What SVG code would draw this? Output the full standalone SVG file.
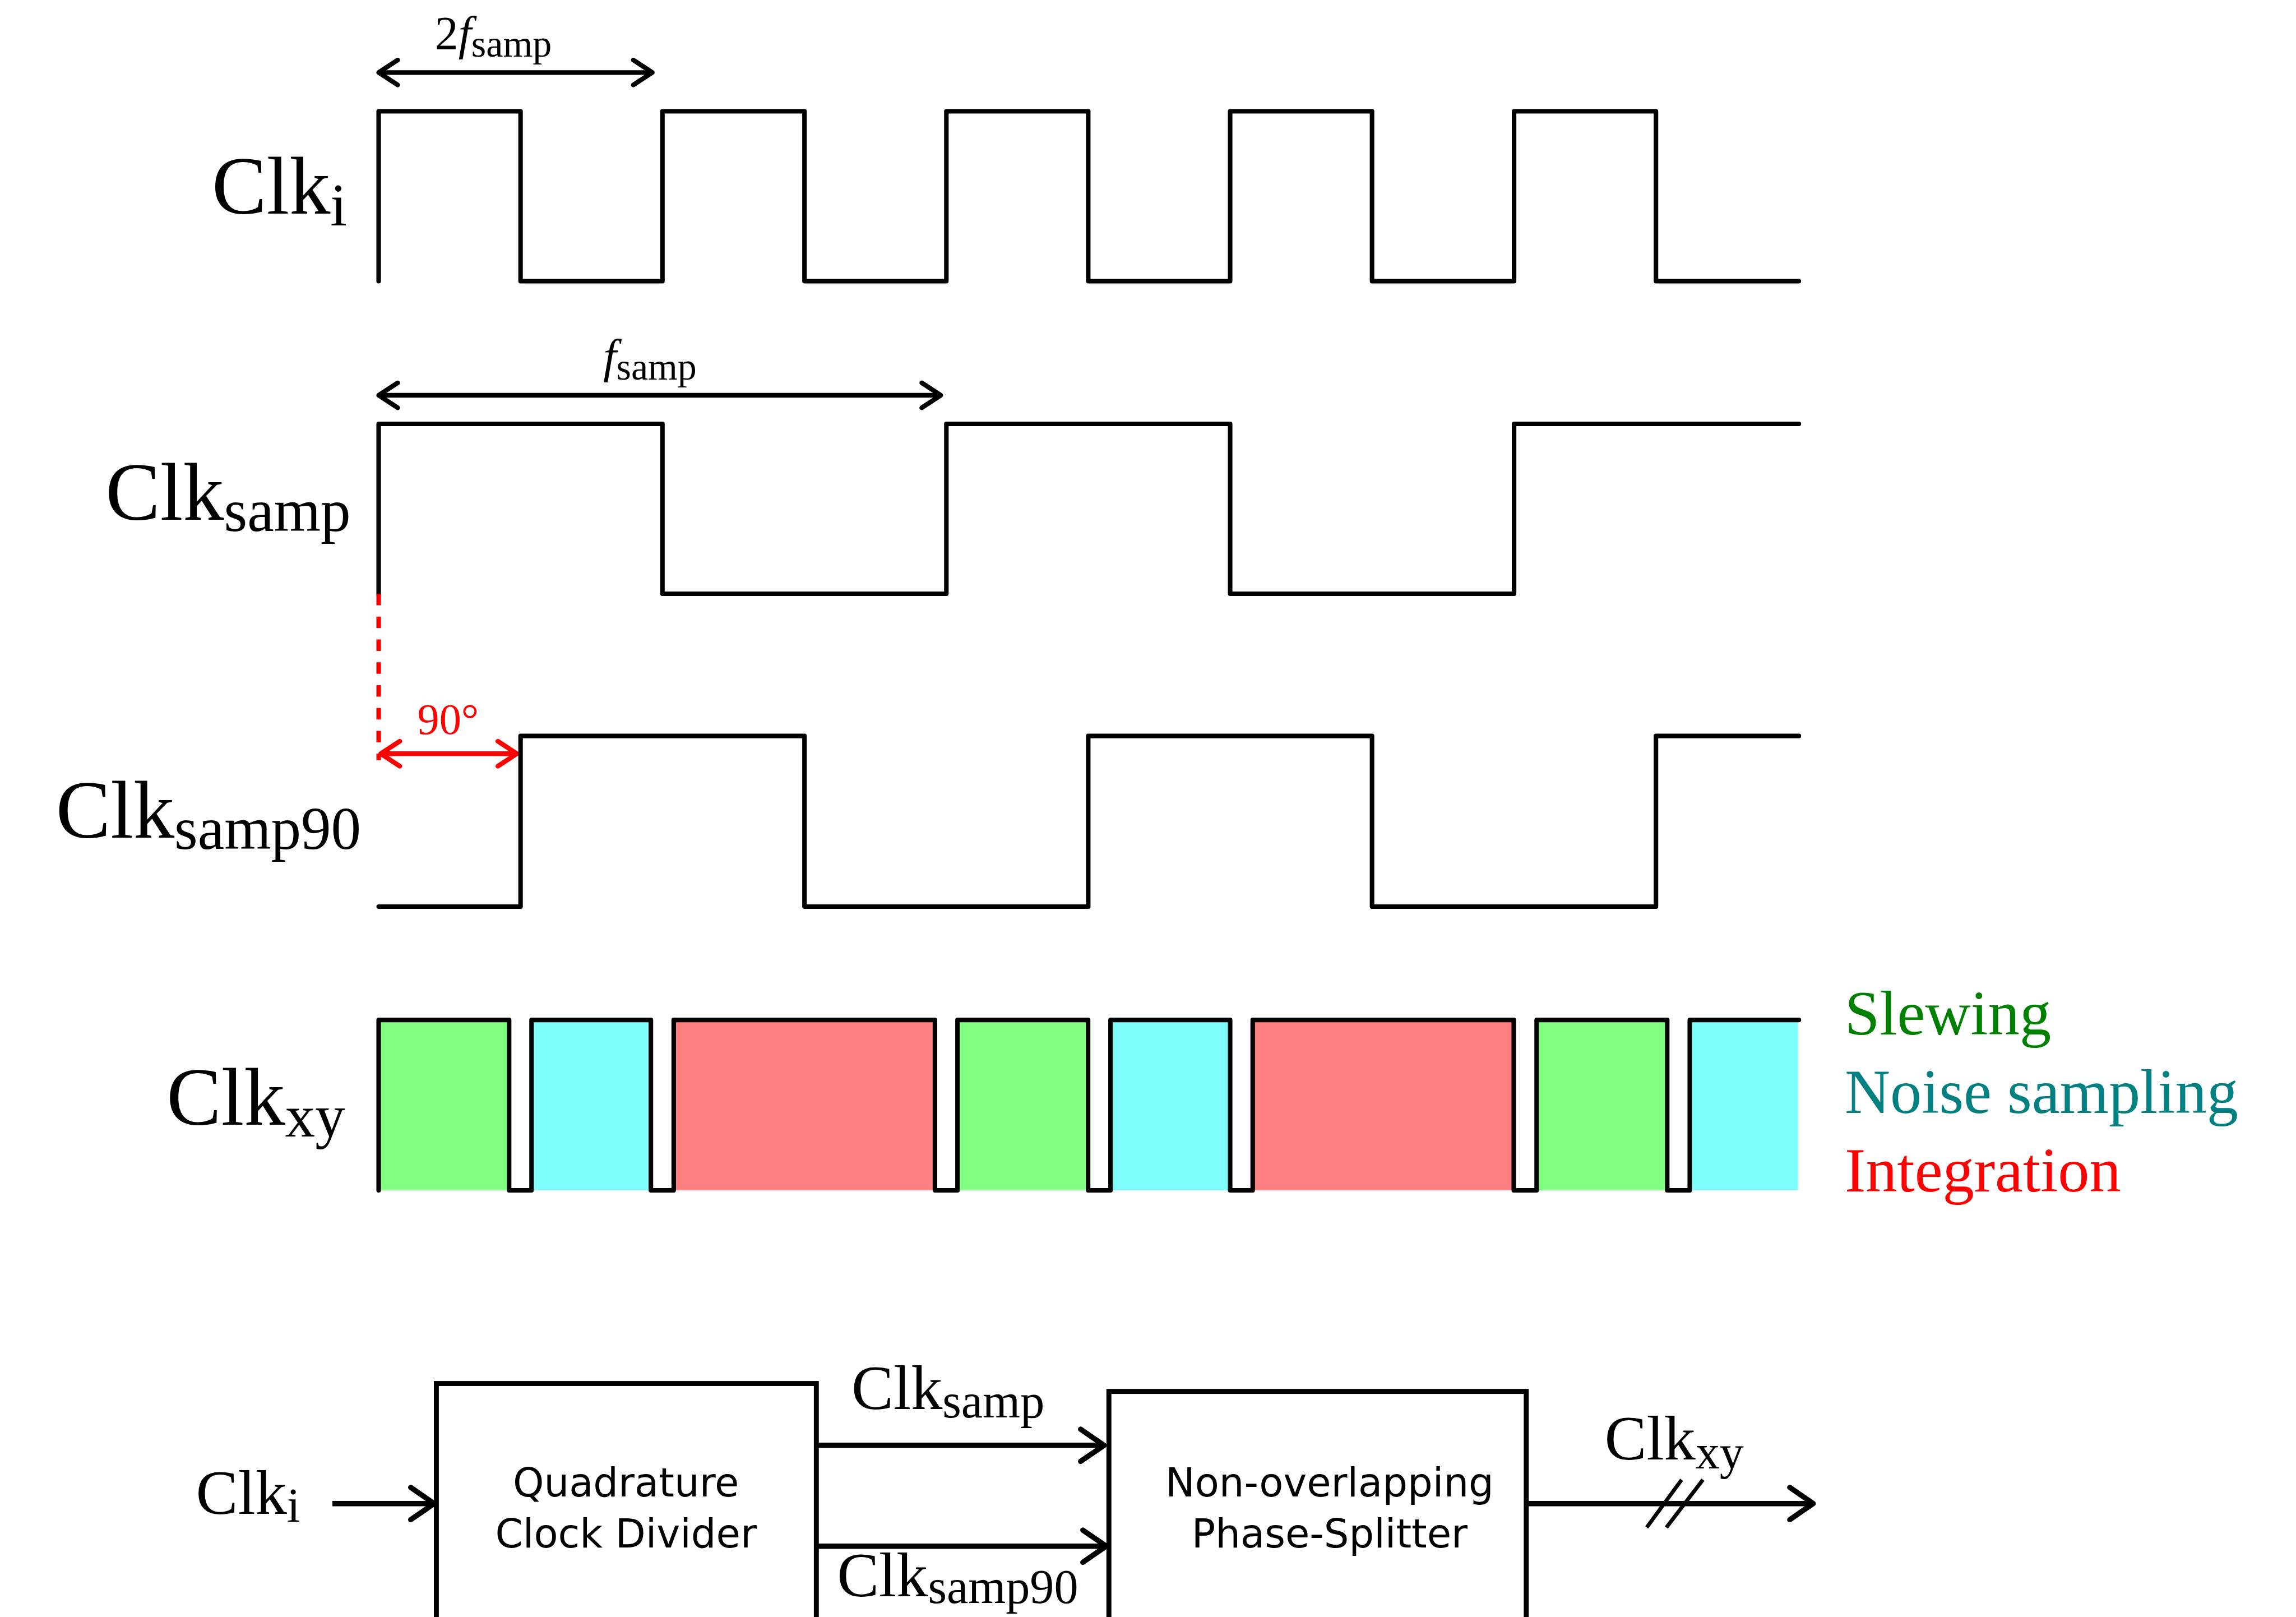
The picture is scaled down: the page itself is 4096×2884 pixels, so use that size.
<svg xmlns="http://www.w3.org/2000/svg" width="4096" height="2884" viewBox="0 0 4096 2884">
<style>
.wave{fill:none;stroke:#000;stroke-width:3.1;stroke-linecap:round;stroke-linejoin:round}
.ser{font-family:"Liberation Serif","Times New Roman",serif;fill:#000}
.sans{font-family:"DejaVu Sans",Verdana,sans-serif;font-size:27px;fill:#000;text-anchor:middle}
.big{font-size:56px}
.sub{font-size:41px}
.bbig{font-size:43px}
.bsub{font-size:33px}
.box{fill:#fff;stroke:#000;stroke-width:3.4}
.conn{fill:none;stroke:#000;stroke-width:3.6}
.dim{fill:none;stroke:#000;stroke-width:3.2}
.leg{font-family:"Liberation Serif","Times New Roman",serif;font-size:43px}
</style>
<defs>
<marker id="arrT" markerUnits="userSpaceOnUse" orient="auto-start-reverse" viewBox="-20 -12 24 24" refX="0" refY="0" markerWidth="24" markerHeight="24" overflow="visible">
<path d="M-13,-8.5 L0,0 L-13,8.5" fill="none" stroke="#000" stroke-width="3.2" stroke-linecap="round" stroke-linejoin="round"/>
</marker>
<marker id="arrR" markerUnits="userSpaceOnUse" orient="auto-start-reverse" viewBox="-20 -12 24 24" refX="0" refY="0" markerWidth="24" markerHeight="24" overflow="visible">
<path d="M-13,-8.5 L0,0 L-13,8.5" fill="none" stroke="#f00" stroke-width="3.2" stroke-linecap="round" stroke-linejoin="round"/>
</marker>
<marker id="arrB" markerUnits="userSpaceOnUse" orient="auto" viewBox="-22 -14 26 28" refX="0" refY="0" markerWidth="26" markerHeight="28" overflow="visible">
<path d="M-16,-11 L0,0 L-16,11" fill="none" stroke="#000" stroke-width="3.6" stroke-linecap="round" stroke-linejoin="round"/>
</marker>
</defs>
<rect x="0" y="0" width="4096" height="2884" fill="#fff"/>
<g transform="scale(2.612245)">
  <!-- Clk_i -->
  <g id="clk-i">
    <text class="ser big" x="237" y="146" text-anchor="end">Clk<tspan class="sub" dy="8">i</tspan></text>
    <path class="wave" d="M258.6,192 V76 H355.5 V192 H452.4 V76 H549.4 V192 H646.3 V76 H743.2 V192 H840.1 V76 H937 V192 H1034 V76 H1130.9 V192 H1228.5"/>
    <line class="dim" x1="258.6" y1="49.5" x2="445.5" y2="49.5" marker-start="url(#arrT)" marker-end="url(#arrT)"/>
    <text class="ser" x="297" y="33.5" font-size="32">2<tspan font-style="italic">f</tspan><tspan font-size="26" dy="5">samp</tspan></text>
  </g>
  <!-- Clk_samp -->
  <g id="clk-samp">
    <text class="ser big" x="239.5" y="355" text-anchor="end">Clk<tspan class="sub" dy="7.7">samp</tspan></text>
    <path class="wave" d="M258.6,405.4 V289.4 H452.4 V405.4 H646.3 V289.4 H840.1 V405.4 H1034 V289.4 H1228.5"/>
    <line class="dim" x1="258.6" y1="269.9" x2="642.5" y2="269.9" marker-start="url(#arrT)" marker-end="url(#arrT)"/>
    <text class="ser" x="412" y="254" font-size="32"><tspan font-style="italic">f</tspan><tspan font-size="26" dy="5">samp</tspan></text>
  </g>
  <!-- phase marker -->
  <g id="phase">
    <line x1="258.6" y1="405.4" x2="258.6" y2="519" stroke="#f00" stroke-width="3.1" stroke-dasharray="7.8 7.8"/>
    <line x1="260" y1="514.6" x2="353" y2="514.6" stroke="#f00" stroke-width="3.2" marker-start="url(#arrR)" marker-end="url(#arrR)"/>
    <text class="ser" x="285" y="501" font-size="30" style="fill:#f00">90°</text>
  </g>
  <!-- Clk_samp90 -->
  <g id="clk-samp90">
    <text class="ser big" x="246.6" y="572" text-anchor="end">Clk<tspan class="sub" dy="7.7">samp90</tspan></text>
    <path class="wave" d="M258.6,619 H355.5 V502.5 H549.4 V619 H743.2 V502.5 H937 V619 H1130.9 V502.5 H1228.5"/>
  </g>
  <!-- Clk_xy -->
  <g id="clk-xy">
    <text class="ser big" x="235.7" y="768" text-anchor="end">Clk<tspan class="sub" dy="8">xy</tspan></text>
    <g id="phases" stroke="none">
      <rect x="258.6" y="696.4" width="89.1" height="116.3" fill="#80ff80"/>
      <rect x="363" y="696.4" width="81.5" height="116.3" fill="#80ffff"/>
      <rect x="460.1" y="696.4" width="178.4" height="116.3" fill="#ff8080"/>
      <rect x="653.9" y="696.4" width="89.2" height="116.3" fill="#80ff80"/>
      <rect x="758.4" y="696.4" width="81.7" height="116.3" fill="#80ffff"/>
      <rect x="855.5" y="696.4" width="178.3" height="116.3" fill="#ff8080"/>
      <rect x="1049.4" y="696.4" width="89.2" height="116.3" fill="#80ff80"/>
      <rect x="1154" y="696.4" width="73.9" height="116.3" fill="#80ffff"/>
    </g>
    <path class="wave" d="M258.6,812.7 V696.4 H347.7 V812.7 H363 V696.4 H444.5 V812.7 H460.1 V696.4 H638.5 V812.7 H653.9 V696.4 H743.1 V812.7 H758.4 V696.4 H840.1 V812.7 H855.5 V696.4 H1033.8 V812.7 H1049.4 V696.4 H1138.6 V812.7 H1154 V696.4 H1228.5"/>
  </g>
  <!-- legend -->
  <g id="legend" class="leg">
    <text x="1259.8" y="706.4" fill="#008000">Slewing</text>
    <text x="1259.8" y="759.7" fill="#008080">Noise sampling</text>
    <text x="1259.8" y="813.6" fill="#ff0000">Integration</text>
  </g>
  <!-- block diagram nodes -->
  <g id="node-divider">
    <rect class="box" x="298" y="944.6" width="259.5" height="180"/>
    <text class="sans" x="427.5" y="1021.6">Quadrature</text>
    <text class="sans" x="427.5" y="1056.7">Clock Divider</text>
  </g>
  <g id="node-splitter">
    <rect class="box" x="757.3" y="950" width="285" height="180"/>
    <text class="sans" x="908" y="1021.6">Non-overlapping</text>
    <text class="sans" x="908" y="1056.7">Phase-Splitter</text>
  </g>
  <!-- connectors -->
  <g id="connectors">
    <line class="conn" x1="227" y1="1026.6" x2="296.5" y2="1026.6" marker-end="url(#arrB)"/>
    <line class="conn" x1="557.5" y1="986.8" x2="754" y2="986.8" marker-end="url(#arrB)"/>
    <line class="conn" x1="557.5" y1="1055.7" x2="755.5" y2="1055.7" marker-end="url(#arrB)"/>
    <line class="conn" x1="1042.3" y1="1026.6" x2="1238.3" y2="1026.6" marker-end="url(#arrB)"/>
    <line x1="1124.6" y1="1042.9" x2="1148.4" y2="1010.3" stroke="#000" stroke-width="2.6"/>
    <line x1="1138" y1="1042.9" x2="1163" y2="1010.3" stroke="#000" stroke-width="2.6"/>
  </g>
  <g id="conn-labels">
    <text class="ser bbig" x="133.8" y="1033.5">Clk<tspan class="bsub" dy="5.5">i</tspan></text>
    <text class="ser bbig" x="581.5" y="962">Clk<tspan class="bsub" dy="5.8">samp</tspan></text>
    <text class="ser bbig" x="571.6" y="1090">Clk<tspan class="bsub" dy="4.5">samp90</tspan></text>
    <text class="ser bbig" x="1095.8" y="996.6">Clk<tspan class="bsub" dy="6">xy</tspan></text>
  </g>
</g>
</svg>
